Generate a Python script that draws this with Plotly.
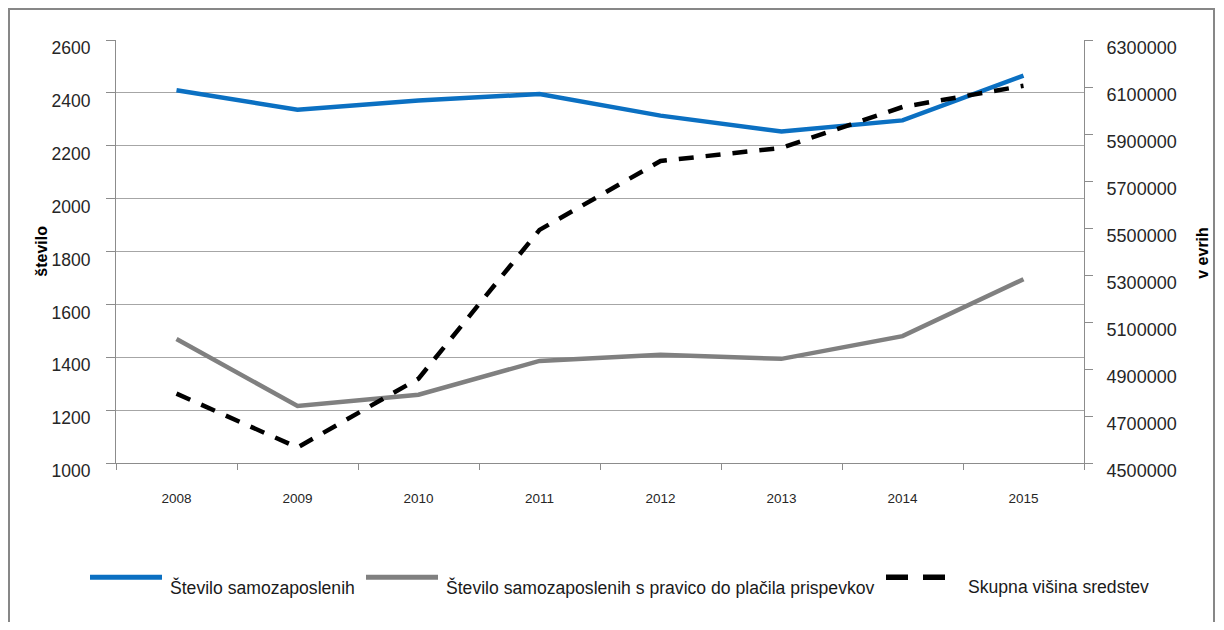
import plotly.graph_objects as go

# ---- data ----
years = ["2008", "2009", "2010", "2011", "2012", "2013", "2014", "2015"]
samozaposleni = [2410, 2336, 2371, 2396, 2314, 2254, 2296, 2465]
s_pravico = [1469, 1216, 1258, 1386, 1409, 1394, 1480, 1695]
sredstva = [4795000, 4566000, 4859000, 5492000, 5785000, 5841000, 6015000, 6105000]
series_names = [
    "Število samozaposlenih",
    "Število samozaposlenih s pravico do plačila prispevkov",
    "Skupna višina sredstev",
]
left_title = "število"
right_title = "v evrih"

# ---- layout geometry (page pixels) ----
W, H = 1224, 630
OFF = 8  # default page margin of the html body
L, R, T, B = 116, 1084, 40, 463.5
FIG_W, FIG_H = W - OFF, H - 2 * OFF


def px_x(x):
    return (x - L) / (R - L)


def px_y(y):
    return (B - y) / (B - T)


FONT = "Liberation Sans, Arial, sans-serif"
BLUE = "#0B70C2"
GRAY = "#808080"
BLACK = "#000000"
GRID = "#A6A6A6"
AXIS = "#8C8C8C"

fig = go.Figure()
fig.add_trace(go.Scatter(x=years, y=samozaposleni, mode="lines", name=series_names[0],
                         line=dict(color=BLUE, width=4.5), showlegend=False))
fig.add_trace(go.Scatter(x=years, y=s_pravico, mode="lines", name=series_names[1],
                         line=dict(color=GRAY, width=4.5), showlegend=False))
fig.add_trace(go.Scatter(x=years, y=sredstva, mode="lines", name=series_names[2], yaxis="y2",
                         line=dict(color=BLACK, width=4.5, dash="15px,12px"), showlegend=False))

fig.update_layout(
    width=FIG_W, height=FIG_H,
    margin=dict(l=L - OFF, r=(FIG_W + OFF) - R, t=T - OFF, b=(FIG_H + OFF) - B, autoexpand=False),
    paper_bgcolor="white", plot_bgcolor="white",
    font=dict(family=FONT, color="#262626"),
    xaxis=dict(
        type="category", range=[-0.5, 7.5], tickson="boundaries",
        ticks="outside", ticklen=6, tickcolor=AXIS, tickwidth=1,
        showline=True, linecolor=AXIS, linewidth=1,
        showgrid=False, zeroline=False,
        tickfont=dict(size=13.5, color="#262626"),
        ticklabelstandoff=23,
    ),
    yaxis=dict(
        range=[1000, 2600], dtick=200, tick0=1000,
        ticks="outside", ticklen=9, tickcolor=AXIS, tickwidth=1,
        showline=True, linecolor=AXIS, linewidth=1,
        showgrid=True, gridcolor=GRID, gridwidth=1, zeroline=False,
        tickfont=dict(size=17.5, color="#262626"),
        ticklabelstandoff=12, ticklabelshift=8,
        automargin=False,
    ),
    yaxis2=dict(
        range=[4500000, 6300000], dtick=200000, tick0=4500000, overlaying="y", side="right",
        ticks="outside", ticklen=8, tickcolor=AXIS, tickwidth=1,
        showline=True, linecolor=AXIS, linewidth=1,
        showgrid=False, zeroline=False, tickformat="d",
        tickfont=dict(size=18, color="#262626"),
        ticklabelstandoff=10, ticklabelshift=8,
        automargin=False,
    ),
    showlegend=False,
)

shapes = []
# chart frame
shapes.append(dict(type="rect", xref="paper", yref="paper",
                   x0=px_x(9), x1=px_x(1214), y0=px_y(660), y1=px_y(9),
                   line=dict(color="#878787", width=2), fillcolor="rgba(0,0,0,0)", layer="below"))

# manual legend (long sample lines like the original)
legend_lines = [(90, 162), (366, 438), (886, 945)]
legend_text_x = [168, 444, 966]
legend_styles = [dict(color=BLUE, width=5), dict(color=GRAY, width=5),
                 dict(color=BLACK, width=5.5, dash="22px,15px")]
for (x0, x1), st in zip(legend_lines, legend_styles):
    shapes.append(dict(type="line", xref="paper", yref="paper",
                       x0=px_x(x0), x1=px_x(x1), y0=px_y(578), y1=px_y(578), line=st))
fig.update_layout(shapes=shapes)

annotations = []
for name, tx in zip(series_names, legend_text_x):
    annotations.append(dict(text=name, xref="paper", yref="paper", x=px_x(tx), y=px_y(588),
                            xanchor="left", yanchor="middle", showarrow=False,
                            font=dict(size=17.6, color="#1a1a1a", family=FONT)))
# axis titles
annotations.append(dict(text=left_title, xref="paper", yref="paper", x=px_x(42), y=px_y(252),
                        xanchor="center", yanchor="middle", textangle=-90, showarrow=False,
                        font=dict(size=16, color="#000000", family=FONT, weight="bold")))
annotations.append(dict(text=right_title, xref="paper", yref="paper", x=px_x(1203), y=px_y(253),
                        xanchor="center", yanchor="middle", textangle=-90, showarrow=False,
                        font=dict(size=16, color="#000000", family=FONT, weight="bold")))
fig.update_layout(annotations=annotations)

fig.write_html("out.html")
